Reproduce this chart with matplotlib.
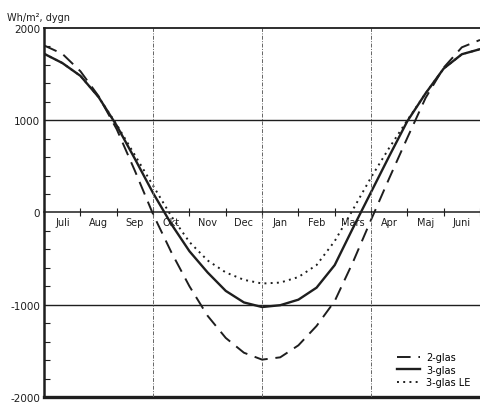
import matplotlib
matplotlib.use("Agg")
import matplotlib.pyplot as plt
import numpy as np

# months from 1 July (x = 0) in half-month steps
months = ["Juli", "Aug", "Sep", "Okt", "Nov", "Dec", "Jan", "Feb", "Mars", "Apr", "Maj", "Juni"]
t = np.arange(0, 12.5, 0.5)

# Wh/m2, dygn
glas2 = [1810, 1720, 1530, 1260, 900, 450, -20, -430, -800, -1120, -1360, -1520, -1595,
         -1570, -1440, -1230, -960, -540, -80, 370, 810, 1240, 1570, 1790, 1870]
glas3 = [1720, 1620, 1480, 1250, 940, 580, 210, -125, -420, -650, -850, -975, -1025,
         -1005, -945, -815, -570, -170, 220, 610, 990, 1290, 1560, 1715, 1770]
glas3_le = [1720, 1620, 1480, 1250, 950, 620, 290, -40, -320, -520, -650, -730, -770,
            -760, -700, -570, -310, 30, 380, 700, 1000, 1290, 1560, 1715, 1770]

ink = "#1e1e1e"

fig = plt.figure(figsize=(4.8, 4.06), dpi=100)
ax = fig.add_axes([0.092, 0.0197, 0.908, 0.909])

ax.plot(t, glas2, color=ink, lw=1.4, dashes=(7, 4), label="2-glas")
ax.plot(t, glas3, color=ink, lw=1.7, label="3-glas")
ax.plot(t, glas3_le, color=ink, lw=1.4, dashes=(1, 2.2), label="3-glas LE")

ax.set_xlim(0, 11.95)
ax.set_ylim(-2000, 2000)

# frame
ax.spines["right"].set_visible(False)
ax.spines["left"].set_linewidth(1.8)
ax.spines["top"].set_linewidth(1.3)
ax.spines["left"].set_color(ink)
ax.spines["top"].set_color(ink)
ax.spines["bottom"].set_position(("data", 0))
ax.spines["bottom"].set_linewidth(1.1)
ax.spines["bottom"].set_color(ink)
ax.axhline(-2000, color=ink, lw=2.4, clip_on=False)
ax.axhline(1000, color=ink, lw=1.0)
ax.axhline(-1000, color=ink, lw=1.0)
for m in [3, 6, 9]:
    ax.axvline(m, color="#666666", lw=0.7, dashes=(4, 1.5, 1, 1.5))

# x ticks: month boundaries, month names in between
ax.set_xticks(range(13))
ax.set_xticklabels([])
ax.tick_params(axis="x", which="major", direction="inout", length=6, width=0.8, color=ink)
ax.set_xticks(np.arange(12) + 0.5, minor=True)
ax.set_xticklabels(months, minor=True, fontsize=7)
ax.tick_params(axis="x", which="minor", length=0, pad=3.5, labelcolor=ink)

# y ticks
ax.set_yticks([-2000, -1000, 0, 1000, 2000])
ax.set_yticklabels(["-2000", "-1000", "0", "1000", "2000"])
ax.set_yticks(np.arange(-2000, 2001, 200), minor=True)
ax.tick_params(axis="y", which="major", direction="in", length=0, labelsize=7.5, pad=3,
               labelcolor=ink)
ax.tick_params(axis="y", which="minor", direction="in", length=4, width=0.8, color=ink)

fig.text(0.015, 0.955, "Wh/m², dygn", fontsize=7, color=ink, va="center")

ax.legend(loc="lower right", frameon=False, fontsize=7, handlelength=2.4,
          labelspacing=0.25, borderaxespad=0.6, handletextpad=0.6)

fig.savefig("out.png", dpi=100)
